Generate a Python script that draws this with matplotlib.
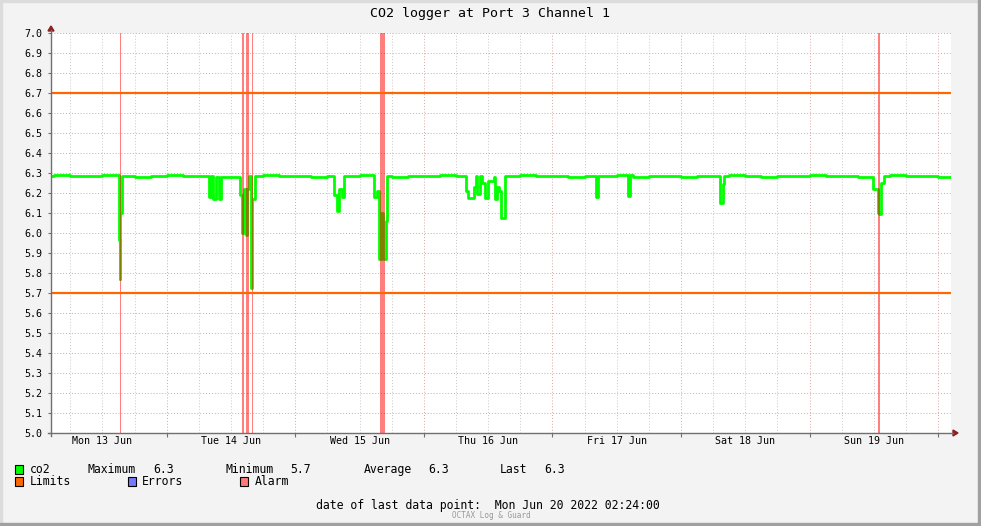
import numpy as np
import matplotlib
matplotlib.use("Agg")
import matplotlib.pyplot as plt
from matplotlib.patches import Rectangle, Polygon
from matplotlib.lines import Line2D
from matplotlib.ticker import MultipleLocator, NullFormatter

plt.rcParams['font.family'] = ['DejaVu Sans Mono']

# hours since Mon 13 Jun 2022 00:00
t_start, t_end = 2.4, 170.4
day_labels = ['Mon 13 Jun', 'Tue 14 Jun', 'Wed 15 Jun', 'Thu 16 Jun',
              'Fri 17 Jun', 'Sat 18 Jun', 'Sun 19 Jun']

# co2 baseline, one value per 3 hours
base_t = np.arange(0, 174, 3)
base_v = [6.285, 6.29, 6.285, 6.285, 6.29, 6.285, 6.28, 6.285, 6.29, 6.285,
          6.285, 6.28, 6.28, 6.285, 6.29, 6.285, 6.285, 6.28, 6.285, 6.285,
          6.29, 6.285, 6.28, 6.285, 6.285, 6.29, 6.285, 6.285, 6.28, 6.285,
          6.29, 6.285, 6.285, 6.28, 6.285, 6.285, 6.29, 6.28, 6.285, 6.285,
          6.28, 6.285, 6.285, 6.29, 6.285, 6.28, 6.285, 6.285, 6.29, 6.285,
          6.285, 6.28, 6.285, 6.29, 6.285, 6.285, 6.28, 6.285]

# co2 dips (start hour, end hour, value)
dip_start = [15.00, 15.19, 15.37,
             31.89, 32.73, 33.76, 37.68, 38.05, 38.43, 38.71, 38.99, 39.73, 40.01,
             55.23, 55.70, 56.16, 56.63, 62.69, 63.16, 63.63, 64.09, 64.37, 64.84,
             79.96, 80.33, 81.27, 82.01, 82.85, 83.41, 83.97, 85.19, 85.65, 86.03, 86.49,
             104.13, 110.11, 127.19, 127.75,
             155.93, 156.68, 157.05, 157.42]
dip_end = [15.19, 15.37, 15.60,
           32.27, 33.11, 34.13, 38.05, 38.43, 38.71, 38.99, 39.27, 40.01, 40.39,
           55.70, 56.16, 56.63, 57.09, 63.16, 63.63, 64.09, 64.37, 64.84, 65.12,
           80.33, 81.27, 81.73, 82.39, 83.41, 83.97, 85.09, 85.65, 86.03, 86.49, 87.24,
           104.60, 110.57, 127.75, 128.03,
           156.68, 157.05, 157.42, 157.89]
dip_value = [5.965, 5.77, 6.10,
             6.18, 6.17, 6.17, 6.19, 6.00, 6.22, 5.99, 6.22, 5.725, 6.17,
             6.19, 6.11, 6.22, 6.18, 6.18, 6.21, 5.87, 6.10, 5.87, 6.06,
             6.21, 6.175, 6.23, 6.195, 6.25, 6.175, 6.26, 6.17, 6.23, 6.21, 6.075,
             6.18, 6.185, 6.15, 6.245,
             6.22, 6.10, 6.095, 6.25]

# alarm periods
alarm_start = [15.28, 38.00, 38.74, 39.92, 63.81, 156.70]
alarm_end = [15.47, 38.43, 39.36, 40.16, 64.75, 157.10]

limits = [6.7, 5.7]

# build the step series
edges = sorted(set([t for t in base_t if t_start <= t <= t_end] + [t_start, t_end]
                   + dip_start + dip_end))
vals = []
for t in edges:
    v = base_v[np.searchsorted(base_t, t, side='right') - 1]
    for a, b, dv in zip(dip_start, dip_end, dip_value):
        if a <= t < b:
            v = dv
    vals.append(v)

W, H = 981, 526
fig = plt.figure(figsize=(W / 100, H / 100), dpi=100)
fig.patch.set_facecolor('#F3F3F3')

def fx(x):
    return x / W

def fy(y):
    return 1 - y / H

# frame shading
fig.patches.append(Rectangle((0, fy(2)), 1, 2 / H, transform=fig.transFigure, color='#DCDCDC', zorder=0))
fig.patches.append(Rectangle((0, 0), 2 / W, 1, transform=fig.transFigure, color='#DCDCDC', zorder=0))
fig.patches.append(Rectangle((0, 0), 1, 3 / H, transform=fig.transFigure, color='#A0A0A0', zorder=0))
fig.patches.append(Rectangle((fx(978), 0), 3 / W, 1, transform=fig.transFigure, color='#A0A0A0', zorder=0))

ax = fig.add_axes([fx(51), fy(433), 900 / W, 400 / H])
ax.set_facecolor('white')

ax.step(edges, vals, where='post', color='#00FF00', lw=2.0, zorder=3)
for a, b in zip(alarm_start, alarm_end):
    ax.axvspan(a, b, color='#FF0000', alpha=0.5, lw=0, zorder=4)
for lv in limits:
    ax.axhline(lv, color='#FF6600', lw=1.6, zorder=5)

ax.set_xlim(t_start, t_end)
ax.set_ylim(5.0, 7.0)

ax.yaxis.set_major_locator(MultipleLocator(0.1))
ax.set_yticklabels([f'{v:.1f}' for v in ax.get_yticks()])
ax.xaxis.set_major_locator(MultipleLocator(24))
ax.xaxis.set_minor_locator(MultipleLocator(6))
ax.xaxis.set_major_formatter(NullFormatter())

ax.grid(axis='y', which='major', color='#D9A3A3', lw=0.7, ls=(0, (1, 2)))
ax.grid(axis='x', which='major', color='#D9A3A3', lw=0.7, ls=(0, (1, 2)))
ax.grid(axis='x', which='minor', color='#C8C8C8', lw=0.7, ls=(0, (1, 2)))
ax.set_axisbelow(True)

ax.tick_params(axis='y', length=2, color='#707070', labelsize=7.2, pad=4)
ax.tick_params(axis='x', which='major', length=3, color='#707070')
ax.tick_params(axis='x', which='minor', length=0)
for s in ax.spines.values():
    s.set_visible(False)

for i, lab in enumerate(day_labels):
    ax.text(12 + 24 * i, 5.0 - 8 / 200, lab, ha='center', va='center', fontsize=7.2)

# axes lines and arrows
fig.lines.append(Line2D([fx(51), fx(51)], [fy(436), fy(30)], transform=fig.transFigure, color='#707070', lw=1))
fig.lines.append(Line2D([fx(48), fx(953)], [fy(433), fy(433)], transform=fig.transFigure, color='#707070', lw=1))
fig.patches.append(Polygon([(fx(48), fy(31)), (fx(54), fy(31)), (fx(51), fy(26))],
                           transform=fig.transFigure, color='#8B2020'))
fig.patches.append(Polygon([(fx(953), fy(430)), (fx(953), fy(436)), (fx(958), fy(433))],
                           transform=fig.transFigure, color='#8B2020'))

fig.text(fx(490.5), fy(13), 'CO2 logger at Port 3 Channel 1', ha='center', va='center', fontsize=9.5)

# legend
def square(x, y, c):
    fig.patches.append(Rectangle((fx(x), fy(y + 9)), 8 / W, 9 / H, transform=fig.transFigure,
                                 facecolor=c, edgecolor='black', lw=0.8))

fs = 8.3
square(15, 465, '#00FF00')
fig.text(fx(30), fy(469.5), 'co2', va='center', fontsize=fs)
stats = [('Maximum', '6.3', 88, 153), ('Minimum', '5.7', 225.7, 290.5),
         ('Average', '6.3', 363.4, 428.5), ('Last', '6.3', 500, 544)]
for name, val, x1, x2 in stats:
    fig.text(fx(x1), fy(469.5), name, va='center', fontsize=fs)
    fig.text(fx(x2), fy(469.5), val, va='center', fontsize=fs)

square(15, 477, '#FF6600')
fig.text(fx(30), fy(481.5), 'Limits', va='center', fontsize=fs)
square(128, 477, '#7777FF')
fig.text(fx(142.3), fy(481.5), 'Errors', va='center', fontsize=fs)
square(240, 477, '#FF7777')
fig.text(fx(255), fy(481.5), 'Alarm', va='center', fontsize=fs)

fig.text(fx(316), fy(506), 'date of last data point:  Mon Jun 20 2022 02:24:00', va='center', fontsize=fs)
fig.text(fx(451.5), fy(516), 'OCTAX Log & Guard', va='center', fontsize=5.5, color='#999999')

fig.savefig('out.png', dpi=100, facecolor=fig.get_facecolor())
